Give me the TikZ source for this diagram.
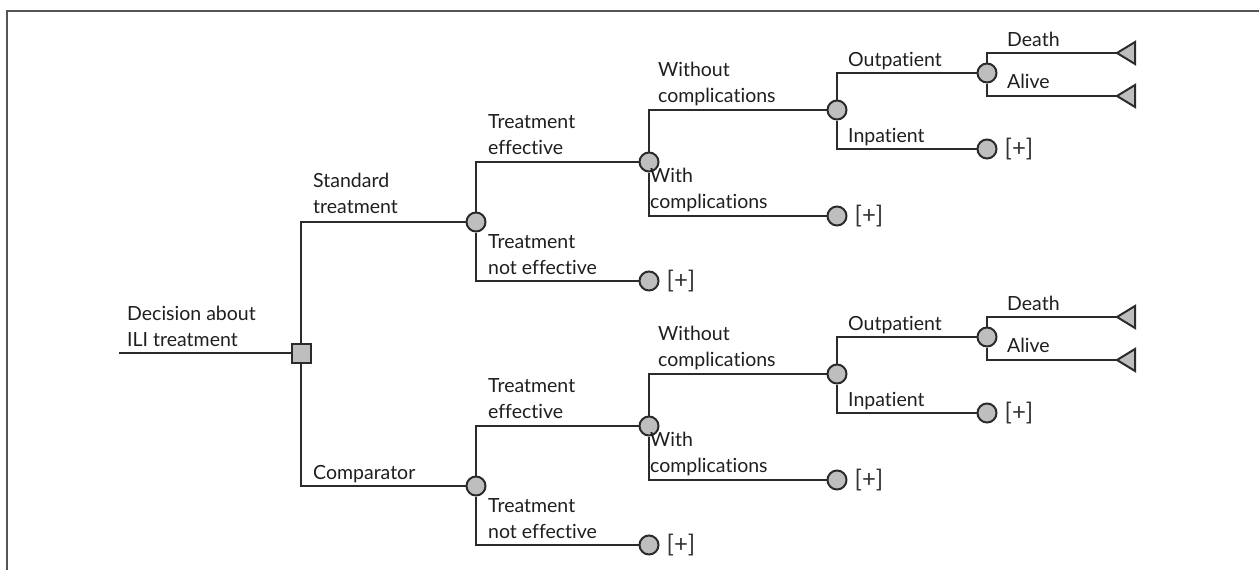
\documentclass[tikz,border=0pt]{standalone}
\usepackage{fontspec}
\setmainfont{Lato}[Ligatures=NoCommon]
\definecolor{linec}{HTML}{2B2B2B}
\definecolor{nodefill}{HTML}{BEBEBE}
\definecolor{framec}{HTML}{555555}
\tikzset{
  conn/.style={draw=linec, line width=2pt},
  chance/.style={circle, draw=linec, fill=nodefill, line width=2pt, minimum size=19pt, inner sep=0pt},
  decis/.style={rectangle, draw=linec, fill=nodefill, line width=2pt, minimum size=19pt, inner sep=0pt},
  termtri/.style={draw=linec, fill=nodefill, line width=2pt, line join=miter},
  lab/.style={anchor=south west, inner sep=0pt, align=left, text depth=0pt, text=black!88, font=\fontsize{19.5}{26}\selectfont},
  plus/.style={anchor=west, inner sep=0pt, text=black!80, font=\fontsize{24}{26}\selectfont},
}
\newcommand{\subtreeDT}[2]{%
\begin{scope}[yshift=#2, name prefix=#1]
  \node[chance] (c) at (476,222) {};
  \node[chance] (te) at (649,162) {};
  \node[chance] (tne) at (649,281) {};
  \node[chance] (wo) at (837,110) {};
  \node[chance] (wc) at (837,216) {};
  \node[chance] (op) at (987,73) {};
  \node[chance] (ip) at (987,149) {};
  \coordinate (de) at (1117,53);
  \coordinate (al) at (1117,96);
  \node[plus, right=7pt of tne.east, anchor=west] (p1) {[+]};
  \node[plus, right=7pt of wc.east, anchor=west] (p2) {[+]};
  \node[plus, right=7pt of ip.east, anchor=west] (p3) {[+]};
  \draw[conn] (c.north) |- (te.west);
  \draw[conn] (c.south) |- (tne.west);
  \draw[conn] (te.north) |- (wo.west);
  \draw[conn] (te.south) |- (wc.west);
  \draw[conn] (wo.north) |- (op.west);
  \draw[conn] (wo.south) |- (ip.west);
  \draw[conn] (op.north) |- (de);
  \draw[conn] (op.south) |- (al);
  \draw[termtri] (de) -- ++(18,-11) -- ++(0,22) -- cycle;
  \draw[termtri] (al) -- ++(18,-11) -- ++(0,22) -- cycle;
  \node[lab] (lte) at (488,155) {Treatment\\effective};
  \node[lab] (ltne) at (488,275) {Treatment\\not effective};
  \node[lab] (lwo) at (658,103) {Without\\complications};
  \node[lab] (lwc) at (650,209) {With\\complications};
  \node[lab] (lop) at (848,67) {Outpatient};
  \node[lab] (lip) at (848,143) {Inpatient};
  \node[lab] (lde) at (1007,47) {Death};
  \node[lab] (lal) at (1007,89) {Alive};
\end{scope}}
\usetikzlibrary{positioning}
\begin{document}
\begin{tikzpicture}[x=1pt, y=-1pt]
  \useasboundingbox (0,0) rectangle (1259,570);
  \draw[framec, line width=1.6pt] (7,570) -- (7,11) -- (1259,11);
  \subtreeDT{A-}{0pt}
  \subtreeDT{B-}{-264pt}
  \node[decis] (dec) at (301,353) {};
  \coordinate (start) at (119,353);
  \draw[conn] (start) -- (dec.west);
  \draw[conn] (dec.north) |- (A-c.west);
  \draw[conn] (dec.south) |- (B-c.west);
  \node[lab] (ldec) at (127,347) {Decision about\\ILI treatment};
  \node[lab] (lstd) at (313,214) {Standard\\treatment};
  \node[lab] (lcmp) at (313,480) {Comparator};
\end{tikzpicture}
\end{document}
